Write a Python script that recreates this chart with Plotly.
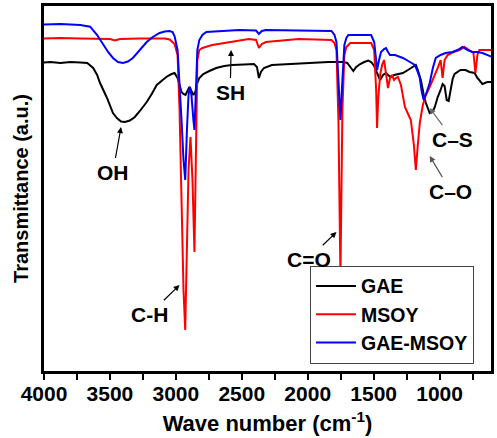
import plotly.graph_objects as go

# FTIR spectra: wave number (cm-1) and transmittance (a.u.)
gae_wn = [4000, 3951, 3876, 3800, 3725, 3672, 3627, 3597, 3575, 3522, 3477, 3447, 3416, 3386,
          3349, 3311, 3273, 3221, 3183, 3145, 3100, 3062, 3032, 3010, 2987, 2972, 2957, 2942,
          2927, 2912, 2897, 2882, 2867, 2852, 2837, 2822, 2792, 2746, 2694, 2633, 2573, 2483,
          2408, 2385, 2370, 2355, 2332, 2272, 2144, 1993, 1843, 1730, 1700, 1677, 1654, 1632,
          1602, 1571, 1541, 1519, 1496, 1474, 1451, 1429, 1406, 1383, 1368, 1345, 1316, 1278,
          1240, 1202, 1180, 1165, 1142, 1120, 1104, 1075, 1051, 1036, 1014, 992, 977, 962,
          946, 931, 916, 901, 886, 841, 803, 773, 735, 713, 675, 638, 600]
gae_t = [308.5, 309, 308, 309, 308.5, 308, 303, 296, 288, 273, 258, 253, 249.5, 249,
         250.5, 254, 260, 269, 277, 286, 291, 295, 297, 298, 293, 285, 279, 277,
         276, 280, 284, 280, 276, 279, 288, 293, 297, 300, 303, 305, 306, 306.5,
         307, 304, 293, 299, 303, 306, 307, 308, 309, 309, 308, 304, 300, 304,
         307, 309, 310.5, 309, 305, 298, 291, 296, 298, 295, 294, 296, 297, 298,
         301, 304, 306, 301, 291, 276, 268, 258, 260, 264, 274, 281, 287, 285,
         271, 270, 283, 292, 297, 301, 301, 299, 298, 293, 287, 289, 289]

msoy_wn = [4000, 3876, 3725, 3575, 3499, 3462, 3424, 3273, 3085, 3047, 3010, 2987, 2972, 2957,
           2942, 2929, 2916, 2904, 2889, 2874, 2859, 2848, 2837, 2822, 2799, 2724, 2596, 2446,
           2392, 2370, 2348, 2317, 2069, 1820, 1797, 1782, 1767, 1760, 1752, 1745, 1737, 1722,
           1707, 1677, 1519, 1496, 1481, 1474, 1466, 1451, 1436, 1421, 1406, 1391, 1376, 1361,
           1345, 1331, 1316, 1293, 1263, 1240, 1218, 1195, 1180, 1165, 1150, 1127, 1104, 1075,
           1044, 1014, 992, 977, 962, 939, 894, 849, 811, 773, 743, 728, 713, 698, 653, 600]
msoy_t = [332.5, 333, 332.5, 332.5, 332, 330.5, 332, 332.5, 332.5, 331.5, 327, 316, 261, 171,
          81, 41, 121, 201, 234, 191, 119, 221, 311, 321, 323, 326, 329, 332,
          331, 323, 327, 329, 332, 331, 328, 321, 251, 171, 96, 171, 261, 316,
          324, 328, 328, 321, 281, 243, 271, 296, 306, 311, 296, 283, 293, 296,
          291, 293, 294, 286, 264, 258, 251, 226, 201, 226, 248, 266, 276, 284,
          293, 303, 311, 293, 311, 316, 319, 321, 324, 321, 318, 298, 316, 321, 321, 321]

blend_wn = [4000, 3876, 3725, 3650, 3597, 3552, 3514, 3477, 3439, 3401, 3364, 3326, 3273, 3221,
            3175, 3123, 3085, 3047, 3025, 3010, 2987, 2972, 2957, 2942, 2929, 2916, 2904, 2893,
            2882, 2867, 2859, 2848, 2837, 2822, 2799, 2769, 2671, 2520, 2392, 2370, 2348, 2317,
            2069, 1820, 1797, 1782, 1767, 1752, 1737, 1722, 1707, 1692, 1519, 1496, 1481, 1474,
            1459, 1444, 1421, 1406, 1391, 1376, 1338, 1316, 1278, 1225, 1187, 1165, 1150, 1135,
            1120, 1097, 1075, 1051, 1029, 992, 954, 901, 864, 826, 788, 751, 713, 675, 638, 600]
blend_t = [346.5, 347, 346, 344.3, 336, 326, 319, 313, 309, 308, 309.5, 313, 321, 329,
           334, 338, 339.5, 340, 339, 335, 321, 291, 251, 211, 191, 241, 276, 284,
           276, 251, 241, 281, 321, 331, 336, 339, 340, 341, 340.5, 337, 340, 341,
           340.5, 340, 336, 329, 291, 251, 291, 326, 333, 336, 336, 329, 311, 301,
           311, 319, 322, 323, 319, 316, 316, 315, 313, 309, 306, 299, 293, 279,
           271, 279, 288, 303, 313, 316, 318, 319, 321, 324, 321, 319, 319, 318, 316, 314]

series = [
    ("GAE", gae_wn, gae_t, "#000000"),
    ("MSOY", msoy_wn, msoy_t, "#ff0000"),
    ("GAE-MSOY", blend_wn, blend_t, "#0000ff"),
]

# band labels: (text, label position, arrow tip, arrow colour)
bands = [
    ("OH", (3477, 199), (3416, 244), "#000000"),
    ("SH", (2588, 279), (2581, 321), "#000000"),
    ("C-H", (3198, 57), (2972, 86), "#000000"),
    ("C=O", (1993, 112), (1782, 139), "#000000"),
    ("C–S", (901, 232), (1075, 263), "#666666"),
    ("C–O", (916, 180), (1075, 215), "#555555"),
]

FONT = "Liberation Sans, Arial, sans-serif"

fig = go.Figure()
for name, wn, t, color in series:
    fig.add_trace(go.Scatter(x=wn, y=t, mode="lines", name=name,
                             line=dict(color=color, width=2)))

annotations = []
for text, (tx, ty), (hx, hy), acol in bands:
    annotations.append(dict(x=hx, y=hy, ax=tx, ay=ty, xref="x", yref="y",
                            axref="x", ayref="y", text=text, showarrow=True,
                            arrowhead=2, arrowsize=1, arrowwidth=1.2,
                            arrowcolor=acol, standoff=0, startstandoff=1,
                            font=dict(family=FONT, size=21, color="#000000",
                                      weight="bold")))

fig.update_layout(
    width=497, height=438,
    margin=dict(l=44, r=3, t=6, b=67),
    paper_bgcolor="white", plot_bgcolor="white",
    font=dict(family=FONT, size=21, color="#000000", weight="bold"),
    showlegend=True,
    legend=dict(x=0.595, y=0.02, xanchor="left", yanchor="bottom",
                bgcolor="white", bordercolor="#444444", borderwidth=1,
                font=dict(family=FONT, size=19.5, color="#000000", weight="bold"),
                itemwidth=40, tracegroupgap=0),
    annotations=annotations,
)

fig.update_xaxes(
    range=[4000, 610], showgrid=False, zeroline=False,
    showline=True, linecolor="#000000", linewidth=2.5, mirror=True,
    ticks="outside", ticklen=6, tickwidth=2, tickcolor="#000000",
    tickmode="array", tickvals=[4000, 3500, 3000, 2500, 2000, 1500, 1000],
    ticktext=["4000", "3500", "3000", "2500", "2000", "1500", "1000"],
    tickfont=dict(family=FONT, size=21, color="#000000", weight="bold"),
    ticklabelstandoff=-4,
    minor=dict(tickmode="array", tickvals=[3750, 3250, 2750, 2250, 1750, 1250, 750],
               ticks="outside", ticklen=6, tickwidth=2, tickcolor="#000000"),
    title=dict(text="Wave number (cm<sup>-1</sup>)", standoff=12,
               font=dict(family=FONT, size=22, color="#000000", weight="bold")),
)
fig.update_yaxes(
    range=[0, 365], showgrid=False, zeroline=False,
    showline=True, linecolor="#000000", linewidth=2.5, mirror=True,
    ticks="", showticklabels=False,
    title=dict(text="Transmittance (a.u.)", standoff=8,
               font=dict(family=FONT, size=20, color="#000000", weight="bold")),
)

fig.write_html("out.html")
